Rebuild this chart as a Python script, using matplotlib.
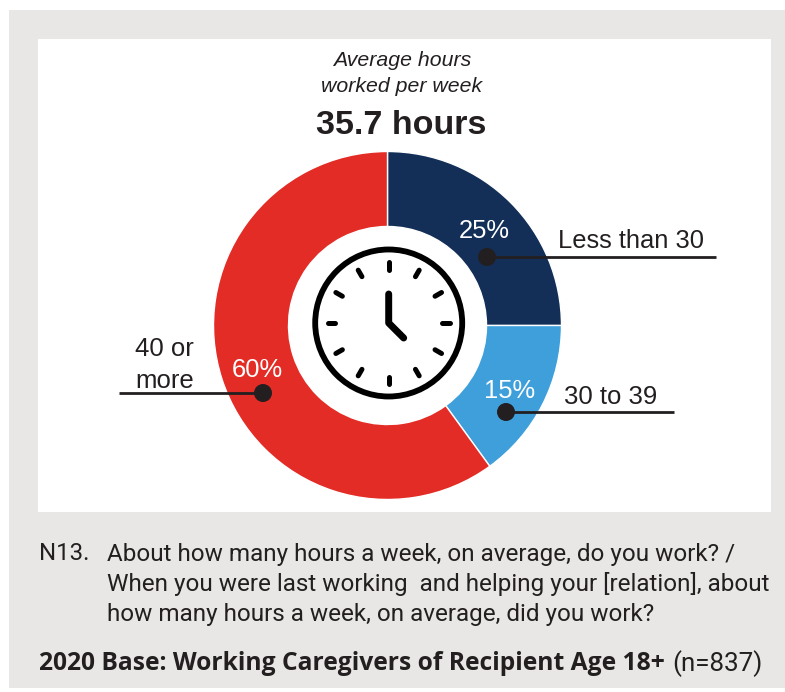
import numpy as np
import matplotlib
matplotlib.use("Agg")
import matplotlib.pyplot as plt
from matplotlib.patches import Rectangle, Circle
from matplotlib.lines import Line2D

categories = ["Less than 30", "30 to 39", "40 or\nmore"]
values = [25, 15, 60]
colors = ["#132F57", "#3E9FDB", "#E42C26"]
pct_labels = ["25%", "15%", "60%"]
subtitle = "Average hours\nworked per week"
headline = "35.7 hours"
question = ["About how many hours a week, on average, do you work? /",
            "When you were last working  and helping your [relation], about",
            "how many hours a week, on average, did you work?"]
base_bold = "2020 Base: Working Caregivers of Recipient Age 18+"
base_n = "(n=837)"

W, H = 785, 692
fig = plt.figure(figsize=(W/100, H/100), dpi=100, facecolor="white")
ax = fig.add_axes([0, 0, 1, 1])
ax.set_xlim(0, W); ax.set_ylim(0, H); ax.axis("off")
Y = lambda p: H - p
ARIAL = ["Liberation Sans", "DejaVu Sans"]
TXT = "#231F20"

ax.add_patch(Rectangle((9, Y(688)), W-9, 678, fc="#E8E7E5", ec="none", zorder=0))
ax.add_patch(Rectangle((38, Y(512)), 733, 473, fc="white", ec="none", zorder=1))

cx, cy = 387.5, Y(325.5)
R, r = 174, 99
ax.pie(values, colors=colors, startangle=90, counterclock=False, center=(cx, cy), radius=R,
       frame=True, wedgeprops=dict(width=R-r, edgecolor="white", linewidth=1.0, zorder=2))
ax.set_xlim(0, W); ax.set_ylim(0, H); ax.axis("off"); ax.set_aspect("auto")

# clock icon
kx, ky = 388.7, Y(323)
ax.add_patch(Circle((kx, ky), 73.5, fc="white", ec="black", lw=4.2, zorder=4))
for i in range(12):
    a = np.deg2rad(i*30)
    ax.add_line(Line2D([kx+np.sin(a)*53.5, kx+np.sin(a)*61], [ky+np.cos(a)*53.5, ky+np.cos(a)*61],
                       color="black", lw=3.6, solid_capstyle="round", zorder=5))
ax.add_line(Line2D([kx, kx, kx+15], [ky+29, ky, ky-15], color="black", lw=5,
                   solid_capstyle="round", solid_joinstyle="round", zorder=5))

# leader lines
for dot, end in [((487, 257), (716, 257)), ((506, 412), (674, 412)), ((263, 393), (119, 393))]:
    ax.add_line(Line2D([dot[0], end[0]], [Y(dot[1])]*2, color=TXT, lw=2, solid_capstyle="butt", zorder=6))
    ax.add_patch(Circle((dot[0], Y(dot[1])), 9, fc=TXT, ec="none", zorder=7))

S = 72/100  # px -> pt
kw = dict(family=ARIAL, zorder=8)
ax.text(510, Y(231), pct_labels[0], color="white", fontsize=25.5*S, ha="right", va="center", **kw)
ax.text(535, Y(391), pct_labels[1], color="white", fontsize=25.5*S, ha="right", va="center", **kw)
ax.text(283, Y(370), pct_labels[2], color="white", fontsize=25.5*S, ha="right", va="center", **kw)
ax.text(558.5, Y(241.5), categories[0], color=TXT, fontsize=25.5*S, ha="left", va="center", **kw)
ax.text(564, Y(396.5), categories[1], color=TXT, fontsize=25.7*S, ha="left", va="center", **kw)
ax.text(135, Y(349.5), "40 or", color=TXT, fontsize=25.7*S, ha="left", va="center", **kw)
ax.text(135, Y(380.5), "more", color=TXT, fontsize=25.7*S, ha="left", va="center", **kw)
ax.text(402, Y(61), "Average hours", color=TXT, fontsize=21.3*S, style="italic", ha="center", va="center", **kw)
ax.text(401.5, Y(87), "worked per week", color=TXT, fontsize=21.3*S, style="italic", ha="center", va="center", **kw)
ax.text(401, Y(126), headline, color=TXT, fontsize=34*S, weight="bold", ha="center", va="center", **kw)

FOOT = ["Roboto", "DejaVu Sans"]
ax.text(39, Y(554), "N13.", color=TXT, fontsize=24*S, ha="left", va="center", family=FOOT, zorder=8)
for t, y in zip(question, [554, 584, 615]):
    ax.text(107, Y(y), t, color=TXT, fontsize=24.2*S, ha="left", va="center", family=FOOT, zorder=8)
ax.text(39, Y(664), base_bold, color=TXT, fontsize=24.6*S, weight="bold", ha="left", va="center",
        family=["Open Sans", "DejaVu Sans"], zorder=8)
ax.text(672, Y(664), base_n, color=TXT, fontsize=26*S, ha="left", va="center", family=FOOT, zorder=8)

fig.savefig("out.png", dpi=100)
